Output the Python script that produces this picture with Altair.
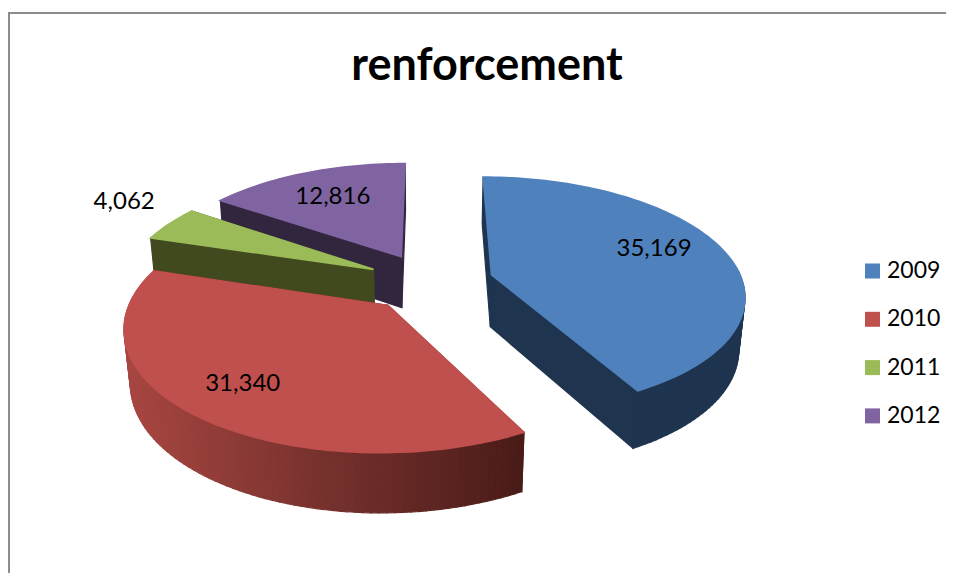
import math
import altair as alt
import pandas as pd

# ---- chart values ----
years = ["2009", "2010", "2011", "2012"]
values = [35169, 31340, 4062, 12816]
labels = ["35,169", "31,340", "4,062", "12,816"]
top_colors = ["#4F81BD", "#C0504D", "#9BBB59", "#8064A2"]
wall_colors = ["#1F344F", "#4E1C18", "#41491F", "#32263F"]
title_text = "renforcement"

# ---- 3D projection of the exploded pie (view pixels) ----
CX, CY = 422.0, 274.0   # pie axis on screen
R, H, EXPLODE = 251.0, 60.0, 64.0
SIN_E = 0.46
COS_E = math.sqrt(1 - SIN_E ** 2)
D = 1400.0
LABEL_AT = {"2009": (0.727, 0.468), "2010": (0.757, 0.508), "2011": (1.32, 0.75), "2012": (0.69, 0.5)}


def project(x, y, z=0.0):
    s = D / (D + y * COS_E - z * SIN_E)
    return [CX + x * s, CY - (y * SIN_E + z * COS_E) * s]


def lerp_rgb(t):
    stops = [(0.0, (168, 70, 65)), (0.43, (125, 52, 48)), (1.0, (74, 28, 24))]
    t = max(0.0, min(1.0, t))
    for (t0, c0), (t1, c1) in zip(stops, stops[1:]):
        if t <= t1:
            f = (t - t0) / (t1 - t0)
            return "#%02x%02x%02x" % tuple(round(a + (b - a) * f) for a, b in zip(c0, c1))
    return "#4a1c18"


def feature(points, year, shade):
    ring = points + [points[0]]
    return {
        "type": "Feature",
        "geometry": {"type": "Polygon", "coordinates": [ring]},
        "properties": {"year": year, "shade": shade},
    }


total = sum(values)
wedges = {}
label_rows = []
start = 0.0
for yr, val, lab, wall, col in zip(years, values, labels, wall_colors, top_colors):
    sweep = val / total * 2 * math.pi
    end = start + sweep
    mid = (start + end) / 2
    ax, ay = EXPLODE * math.sin(mid), EXPLODE * math.cos(mid)
    steps = max(6, int(math.degrees(sweep) / 1.5))
    angs = [start + sweep * i / steps for i in range(steps + 1)]
    rim = [(ax + R * math.sin(a), ay + R * math.cos(a)) for a in angs]
    top = [project(ax, ay)] + [project(px, py) for px, py in rim]
    sides = []
    for px, py in (rim[-1], rim[0]):
        sides.append(feature([project(ax, ay), project(px, py), project(px, py, -H), project(ax, ay, -H)], yr, wall))
    for a, (p0, p1) in zip(angs, zip(rim, rim[1:])):
        if math.cos(a + sweep / steps / 2) > 0.05:
            continue  # far side of the rim is hidden by the top
        a0, a1 = project(*p0), project(*p1)
        shade = wall
        if yr == "2010":
            shade = lerp_rgb(((a0[0] + a1[0]) / 2 - 117) / 395)
        sides.append(feature([a0, a1, project(*p1, -H), project(*p0, -H)], yr, shade))
    wedges[yr] = (sides, [feature(top, yr, yr)], col)
    fr, fa = LABEL_AT[yr]
    ang = start + sweep * fa
    lx, ly = project(ax + fr * R * math.sin(ang), ay + fr * R * math.cos(ang))
    label_rows.append({"label": lab, "lx": lx, "ly": ly})
    start = end

proj = alt.Projection(type="identity", scale=1, translate=[0, 0])
color_scale = alt.Scale(domain=years, range=top_colors)
legend = alt.Legend(
    title=None, orient="none", legendX=853, legendY=251.5, symbolType="square", symbolSize=225,
    symbolStrokeWidth=0, labelFont="Lato", labelFontSize=23, labelColor="#000000",
    rowPadding=24.3, labelOffset=3, symbolOpacity=1,
)

layers = []
# frame of the chart
layers.append(alt.Chart(pd.DataFrame({"a": [0]})).mark_rule(color="#8c8c8c", strokeWidth=2).encode(
    x=alt.value(0), x2=alt.value(938), y=alt.value(5)))
layers.append(alt.Chart(pd.DataFrame({"a": [0]})).mark_rule(color="#8c8c8c", strokeWidth=2).encode(
    x=alt.value(1), y=alt.value(5), y2=alt.value(565)))

for yr in ["2012", "2011", "2010", "2009"]:
    sides, top, col = wedges[yr]
    layers.append(
        alt.Chart(alt.Data(values=sides)).mark_geoshape(strokeWidth=1.2).encode(
            fill=alt.Fill("properties.shade:N", scale=None),
            stroke=alt.Stroke("properties.shade:N", scale=None),
        ).project(**proj.to_dict())
    )
    layers.append(
        alt.Chart(alt.Data(values=top)).mark_geoshape(stroke=col, strokeWidth=1.6).encode(
            color=alt.Color("properties.year:N", scale=color_scale, legend=legend),
        ).project(**proj.to_dict())
    )

text = alt.Chart(pd.DataFrame(label_rows)).mark_text(
    font="Lato", fontSize=24, color="#000000", align="center", baseline="middle"
).encode(
    x=alt.X("lx:Q", scale=None, axis=None),
    y=alt.Y("ly:Q", scale=None, axis=None),
    text="label:N",
)
layers.append(text)

chart = alt.layer(*layers).properties(
    width=938,
    height=565,
    padding=0,
    autosize=alt.AutoSizeParams(type="none", contains="padding"),
    background="#ffffff",
    title=alt.TitleParams(
        text=title_text, font="Lato", fontSize=45, fontWeight="bold", color="#000000",
        anchor="middle", dx=10, dy=85,
    ),
).configure_view(stroke=None)

chart.save("out.html", embed_options={"renderer": "svg", "actions": False})
